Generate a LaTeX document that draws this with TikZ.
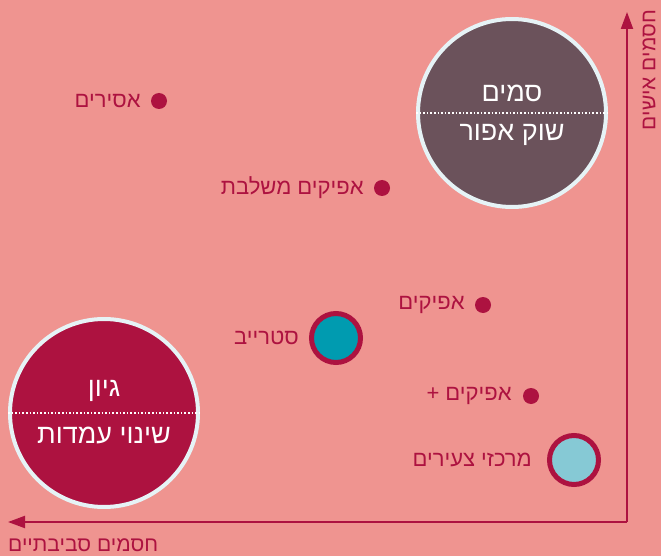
\documentclass[tikz,border=0pt]{standalone}
\usepackage{fontspec}
\setmainfont[Script=Hebrew]{Liberation Sans}
\TeXXeTstate=1
\usetikzlibrary{arrows.meta}
\definecolor{bg}{HTML}{EF9490}
\definecolor{wine}{HTML}{AD1240}
\definecolor{plum}{HTML}{6B525B}
\definecolor{teal}{HTML}{009BB0}
\definecolor{lteal}{HTML}{86C9D5}
\definecolor{rim}{HTML}{E6F3F6}
\tikzset{
  big/.style={circle, draw=rim, line width=4pt, minimum size=188pt, inner sep=0pt},
  dotpt/.style={circle, fill=wine, minimum size=16pt, inner sep=0pt},
  ring/.style={circle, draw=wine, line width=5pt, minimum size=49pt, inner sep=0pt},
  lbl/.style={anchor=east, inner sep=0pt, text=wine, font=\fontsize{22}{24}\selectfont},
  bigtxt/.style={inner sep=0pt, text=white, font=\fontsize{27}{29}\selectfont},
  sep/.style={white, dotted, line width=1.6pt},
  axis/.style={wine, line width=2pt},
  axlbl/.style={inner sep=0pt, text=wine, font=\fontsize{21}{23}\selectfont}
}
\begin{document}
\begin{tikzpicture}[x=1pt,y=-1pt]
\fill[bg] (0,0) rectangle (661,556);
\useasboundingbox (0,0) rectangle (661,556);
% axes
\coordinate (o) at (627,522);
\coordinate (ytip) at (627,12);
\coordinate (xtip) at (8,522);
\draw[axis,-{Triangle[length=17pt,width=12pt]}] (o) -- (ytip);
\draw[axis,-{Triangle[length=17pt,width=12pt]}] (o) -- (xtip);
\node[axlbl, rotate=90] (ylab) at (649,70) {\beginR חסמים אישים\endR};
\node[axlbl, anchor=west] (xlab) at (8,545) {\beginR חסמים סביבתיים\endR};
% big circles
\node[big, fill=plum] (top) at (512,113) {};
\draw[sep] (top.west) -- (top.east);
\node[bigtxt] (t1) at (512,93) {\beginR סמים\endR};
\node[bigtxt] (t2) at (512,135) {\beginR שוק אפור\endR};
\node[big, fill=wine] (bot) at (104,413) {};
\draw[sep] (bot.west) -- (bot.east);
\node[bigtxt] (b1) at (104,391) {\beginR גיון\endR};
\node[bigtxt] (b2) at (104,435) {\beginR שינוי עמדות\endR};
% points
\node[dotpt] (p1) at (159,101) {};
\node[lbl] (l1) at ([xshift=-10pt]p1.west) {\beginR אסירים\endR};
\node[dotpt] (p2) at (382,188) {};
\node[lbl] (l2) at ([xshift=-10pt]p2.west) {\beginR אפיקים משלבת\endR};
\node[dotpt] (p3) at (483,305) {};
\node[lbl] (l3) at ([xshift=-10pt]p3.west) {\beginR אפיקים\endR};
\node[dotpt] (p4) at (531,396) {};
\node[lbl] (l4) at ([xshift=-11pt]p4.west) {\beginR אפיקים +\endR};
\node[ring, fill=teal] (p5) at (336,338) {};
\node[lbl] (l5) at ([xshift=-10pt]p5.west) {\beginR סטרייב\endR};
\node[ring, fill=lteal] (p6) at (574,460) {};
\node[lbl] (l6) at ([xshift=-15pt]p6.west) {\beginR מרכזי צעירים\endR};
\end{tikzpicture}
\end{document}
